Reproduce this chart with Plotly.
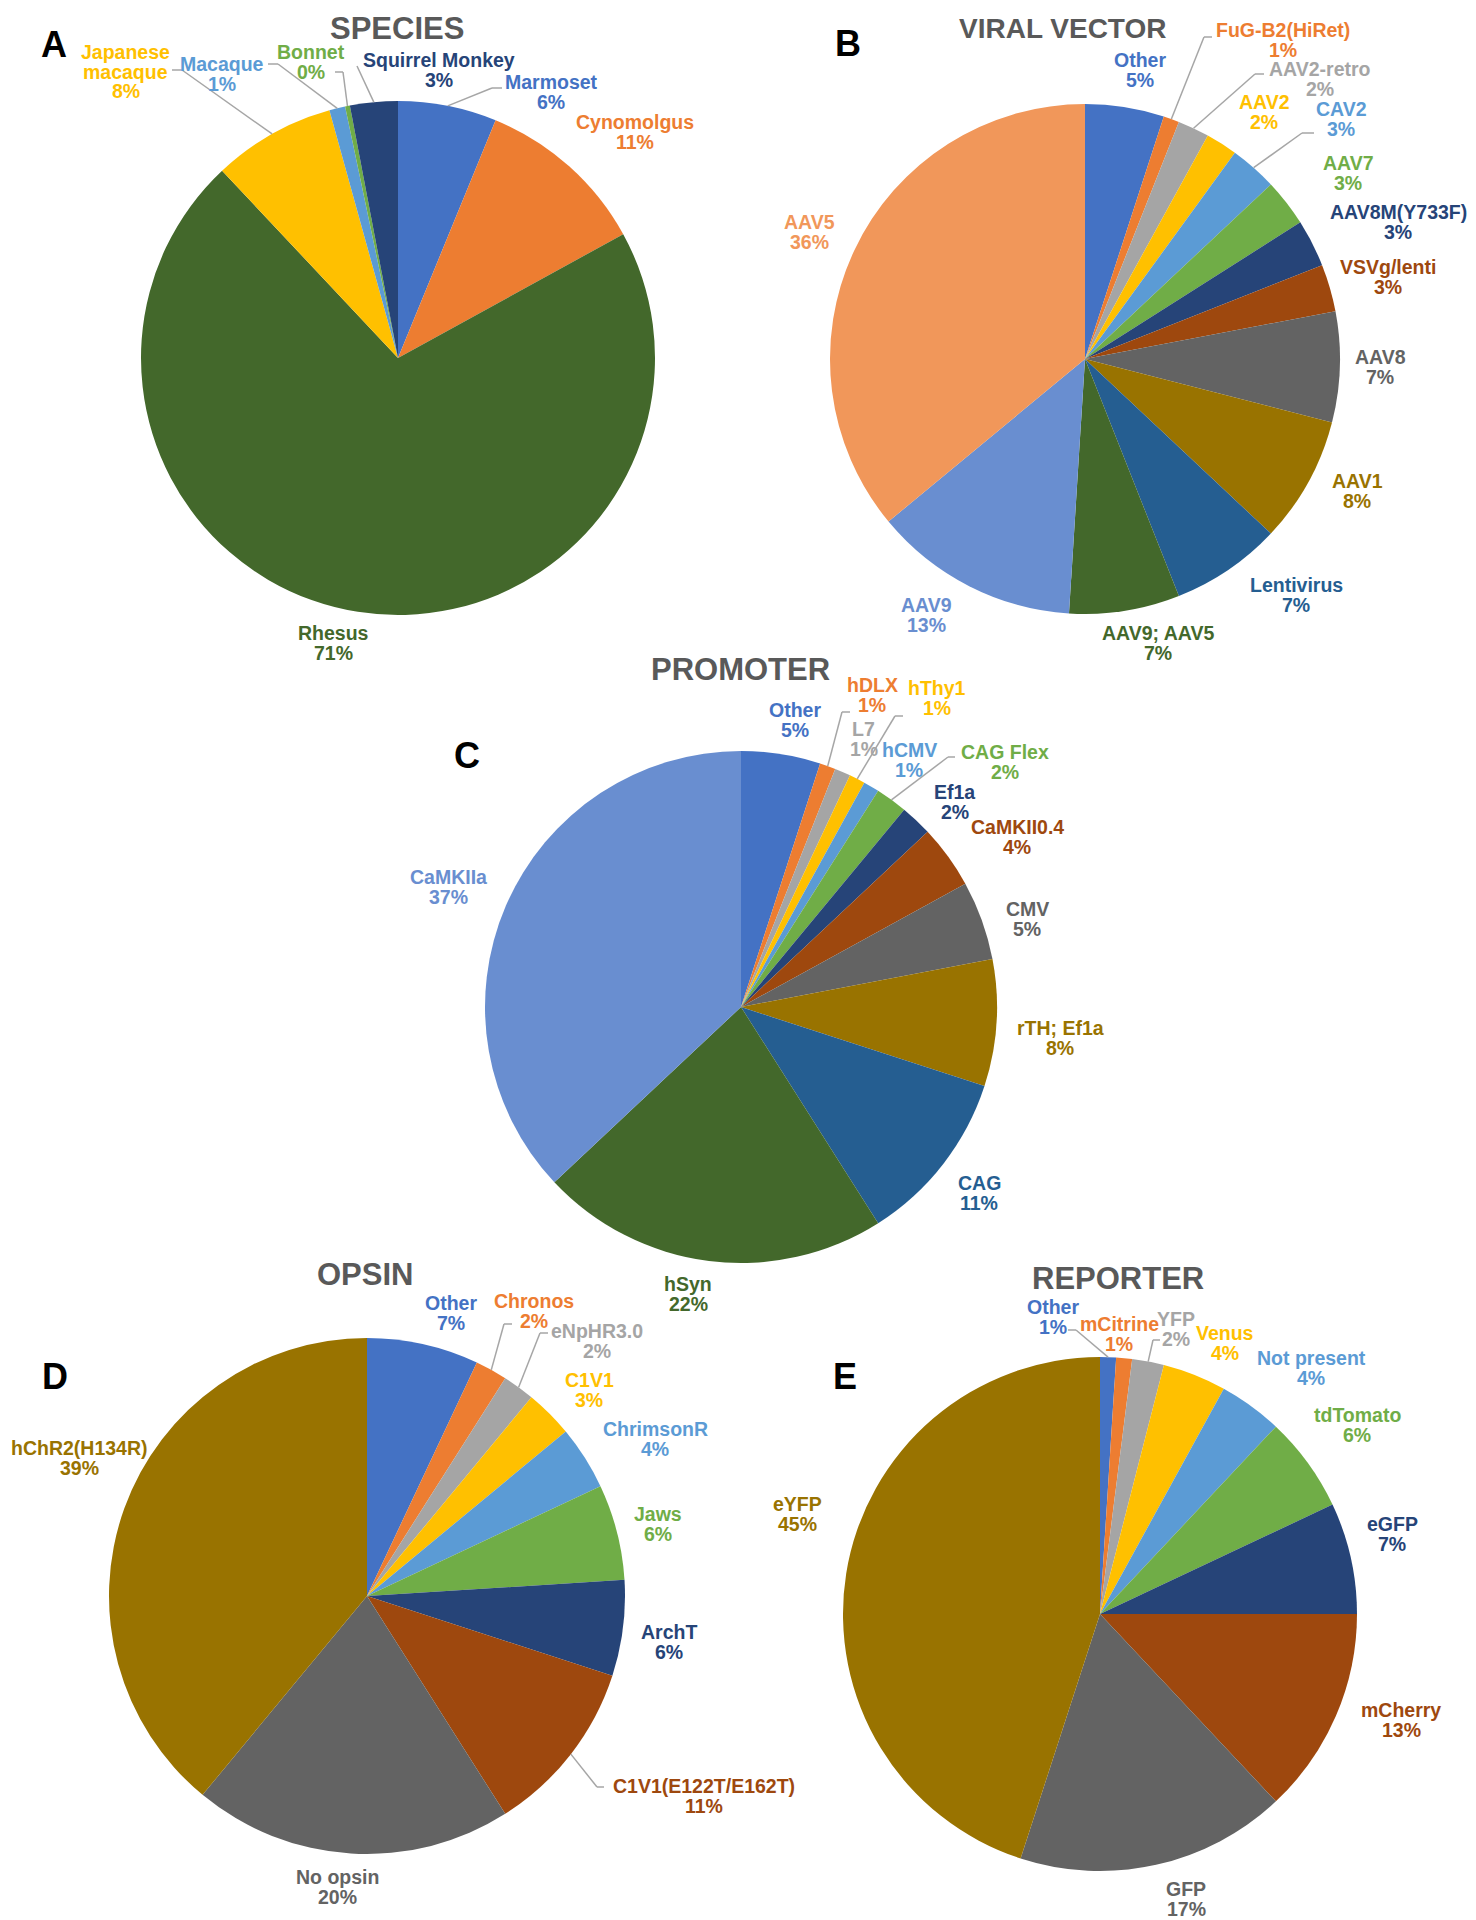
import math
import plotly.graph_objects as go

# page has an 8px body margin: lay out in page pixels, convert to figure fractions
OFF = 8
FW, FH = 1476 - OFF, 1920 - OFF

# ---------------- data ----------------
species_labels = ["Marmoset", "Cynomolgus", "Rhesus", "Japanese macaque", "Macaque", "Bonnet", "Squirrel Monkey"]
species_values = [6.2, 10.8, 71.0, 7.7, 1.0, 0.3, 3.0]

vector_labels = ["Other", "FuG-B2(HiRet)", "AAV2-retro", "AAV2", "CAV2", "AAV7", "AAV8M(Y733F)",
                 "VSVg/lenti", "AAV8", "AAV1", "Lentivirus", "AAV9; AAV5", "AAV9", "AAV5"]
vector_values = [5, 1, 2, 2, 3, 3, 3, 3, 7, 8, 7, 7, 13, 36]

promoter_labels = ["Other", "hDLX", "L7", "hThy1", "hCMV", "CAG Flex", "Ef1a", "CaMKII0.4",
                   "CMV", "rTH; Ef1a", "CAG", "hSyn", "CaMKIIa"]
promoter_values = [5, 1, 1, 1, 1, 2, 2, 4, 5, 8, 11, 22, 37]

opsin_labels = ["Other", "Chronos", "eNpHR3.0", "C1V1", "ChrimsonR", "Jaws", "ArchT",
                "C1V1(E122T/E162T)", "No opsin", "hChR2(H134R)"]
opsin_values = [7, 2, 2, 3, 4, 6, 6, 11, 20, 39]

reporter_labels = ["Other", "mCitrine", "YFP", "Venus", "Not present", "tdTomato", "eGFP",
                   "mCherry", "GFP", "eYFP"]
reporter_values = [1, 1, 2, 4, 4, 6, 7, 13, 17, 45]

# ---------------- styles ----------------
C_BLUE, C_ORANGE, C_GRAY, C_GOLD = "#4472C4", "#ED7D31", "#A5A5A5", "#FFC000"
C_LBLUE, C_GREEN, C_DBLUE, C_BROWN = "#5B9BD5", "#70AD47", "#264478", "#9E480E"
C_DGRAY, C_OLIVE, C_MBLUE, C_DGREEN = "#636363", "#997300", "#255E91", "#43682B"
C_PBLUE, C_LORANGE = "#698ED0", "#F1975A"

species_colors = [C_BLUE, C_ORANGE, C_DGREEN, C_GOLD, C_LBLUE, C_GREEN, C_DBLUE]
vector_colors = [C_BLUE, C_ORANGE, C_GRAY, C_GOLD, C_LBLUE, C_GREEN, C_DBLUE, C_BROWN,
                 C_DGRAY, C_OLIVE, C_MBLUE, C_DGREEN, C_PBLUE, C_LORANGE]
promoter_colors = [C_BLUE, C_ORANGE, C_GRAY, C_GOLD, C_LBLUE, C_GREEN, C_DBLUE, C_BROWN,
                   C_DGRAY, C_OLIVE, C_MBLUE, C_DGREEN, C_PBLUE]
opsin_colors = [C_BLUE, C_ORANGE, C_GRAY, C_GOLD, C_LBLUE, C_GREEN, C_DBLUE, C_BROWN,
                C_DGRAY, C_OLIVE]
reporter_colors = [C_BLUE, C_ORANGE, C_GRAY, C_GOLD, C_LBLUE, C_GREEN, C_DBLUE, C_BROWN,
                   C_DGRAY, C_OLIVE]

FONT = "Liberation Sans, Arial, sans-serif"
LABEL_SIZE = 19.5
LINE_STEP = 19.5
LETTER_SIZE = 36
LEADER = "#A6A6A6"

panels = [
    dict(labels=species_labels, values=species_values, colors=species_colors,
         cx=398, cy=358, r=257, title="SPECIES", tsize=31, tpos=(397, 29), letter="A", lpos=(54, 44),
         names={"Japanese macaque": ["Japanese", "macaque"]},
         pos={"Marmoset": (551, 92), "Cynomolgus": (635, 132), "Rhesus": (333, 643),
              "Japanese macaque": (126, 72), "Macaque": (222, 74), "Bonnet": (311, 62),
              "Squirrel Monkey": (439, 70)},
         leaders={"Japanese macaque": [(172, 70), (182, 70)], "Macaque": [(268, 64), (278, 64)],
                  "Bonnet": [(335, 72), (343, 72)], "Squirrel Monkey": [(357, 66)],
                  "Marmoset": [(502, 88), (492, 88)]}),
    dict(labels=vector_labels, values=vector_values, colors=vector_colors,
         cx=1085, cy=359, r=255, title="VIRAL VECTOR", tsize=28, tpos=(1062, 29), letter="B", lpos=(848, 43),
         names={},
         pos={"Other": (1140, 70), "FuG-B2(HiRet)": (1283, 40), "AAV2-retro": (1320, 79),
              "AAV2": (1264, 112), "CAV2": (1341, 119), "AAV7": (1348, 173),
              "AAV8M(Y733F)": (1398, 222), "VSVg/lenti": (1388, 277), "AAV8": (1380, 367),
              "AAV1": (1357, 491), "Lentivirus": (1296, 595), "AAV9; AAV5": (1158, 643),
              "AAV9": (926, 615), "AAV5": (809, 232)},
         leaders={"FuG-B2(HiRet)": [(1212, 37), (1204, 37)], "AAV2-retro": [(1264, 74), (1255, 74)],
                  "CAV2": [(1314, 133), (1302, 133)]}),
    dict(labels=promoter_labels, values=promoter_values, colors=promoter_colors,
         cx=741, cy=1007, r=256, title="PROMOTER", tsize=31, tpos=(740, 669), letter="C", lpos=(467, 755),
         names={},
         pos={"Other": (795, 720), "hDLX": (872, 695), "L7": (864, 739), "hThy1": (937, 698),
              "hCMV": (909, 760), "CAG Flex": (1005, 762), "Ef1a": (955, 802),
              "CaMKII0.4": (1017, 837), "CMV": (1027, 919), "rTH; Ef1a": (1060, 1038),
              "CAG": (979, 1193), "hSyn": (688, 1294), "CaMKIIa": (448, 887)},
         leaders={"hDLX": [(850, 712), (842, 712)], "hThy1": [(903, 716), (895, 716)],
                  "CAG Flex": [(955, 757), (948, 757)]}),
    dict(labels=opsin_labels, values=opsin_values, colors=opsin_colors,
         cx=367, cy=1596, r=258, title="OPSIN", tsize=31, tpos=(365, 1274), letter="D", lpos=(55, 1376),
         names={},
         pos={"Other": (451, 1313), "Chronos": (534, 1311), "eNpHR3.0": (597, 1341),
              "C1V1": (589, 1390), "ChrimsonR": (655, 1439), "Jaws": (658, 1524),
              "ArchT": (669, 1642), "C1V1(E122T/E162T)": (704, 1796), "No opsin": (337, 1887),
              "hChR2(H134R)": (79, 1458)},
         leaders={"Chronos": [(512, 1324), (504, 1324)], "eNpHR3.0": [(548, 1333), (540, 1333)],
                  "C1V1(E122T/E162T)": [(604, 1787), (597, 1787)]}),
    dict(labels=reporter_labels, values=reporter_values, colors=reporter_colors,
         cx=1100, cy=1614, r=257, title="REPORTER", tsize=31, tpos=(1118, 1278), letter="E", lpos=(845, 1376),
         names={},
         pos={"Other": (1053, 1317), "mCitrine": (1119, 1334), "YFP": (1176, 1329),
              "Venus": (1225, 1343), "Not present": (1311, 1368), "tdTomato": (1357, 1425),
              "eGFP": (1392, 1534), "mCherry": (1401, 1720), "GFP": (1186, 1899),
              "eYFP": (797, 1514)},
         leaders={"Other": [(1068, 1330), (1076, 1330)], "YFP": [(1160, 1340), (1153, 1340)]}),
]


def px(x):
    return (x - OFF) / FW


def py(y):
    return 1 - (y - OFF) / FH


fig = go.Figure()
annotations = []
shapes = []

for p in panels:
    cx, cy, r = p["cx"], p["cy"], p["r"]
    fig.add_trace(go.Pie(
        labels=p["labels"], values=p["values"], sort=False, direction="clockwise", rotation=0,
        marker=dict(colors=p["colors"], line=dict(width=0)),
        textinfo="none", hoverinfo="label+percent", showlegend=False,
        domain=dict(x=[px(cx - r), px(cx + r)], y=[py(cy + r), py(cy - r)]),
    ))
    annotations.append(dict(text="<b>%s</b>" % p["title"], x=px(p["tpos"][0]), y=py(p["tpos"][1]),
                            xref="paper", yref="paper", showarrow=False, xanchor="center", yanchor="middle",
                            font=dict(family=FONT, size=p["tsize"], color="#595959")))
    annotations.append(dict(text="<b>%s</b>" % p["letter"], x=px(p["lpos"][0]), y=py(p["lpos"][1]),
                            xref="paper", yref="paper", showarrow=False, xanchor="center", yanchor="middle",
                            font=dict(family=FONT, size=LETTER_SIZE, color="#000000")))
    total = sum(p["values"])
    cum = 0.0
    for lab, val, col in zip(p["labels"], p["values"], p["colors"]):
        mid = (cum + val / 2) / total * 2 * math.pi
        cum += val
        pct = "%d%%" % round(val / total * 100)
        lines = p["names"].get(lab, [lab]) + [pct]
        lx, ly = p["pos"][lab]
        n = len(lines)
        for i, t in enumerate(lines):
            yy = ly + (i - (n - 1) / 2) * LINE_STEP
            annotations.append(dict(text="<b>%s</b>" % t, x=px(lx), y=py(yy), xref="paper", yref="paper",
                                    showarrow=False, xanchor="center", yanchor="middle",
                                    font=dict(family=FONT, size=LABEL_SIZE, color=col)))
        if lab in p["leaders"]:
            pts = list(p["leaders"][lab])
            pts.append((cx + r * math.sin(mid), cy - r * math.cos(mid)))
            for (x0, y0), (x1, y1) in zip(pts[:-1], pts[1:]):
                shapes.append(dict(type="line", xref="paper", yref="paper",
                                   x0=px(x0), y0=py(y0), x1=px(x1), y1=py(y1),
                                   line=dict(color=LEADER, width=1.5)))

fig.update_layout(width=FW, height=FH, margin=dict(l=0, r=0, t=0, b=0),
                  paper_bgcolor="white", plot_bgcolor="white",
                  annotations=annotations, shapes=shapes)

fig.write_html("out.html")
